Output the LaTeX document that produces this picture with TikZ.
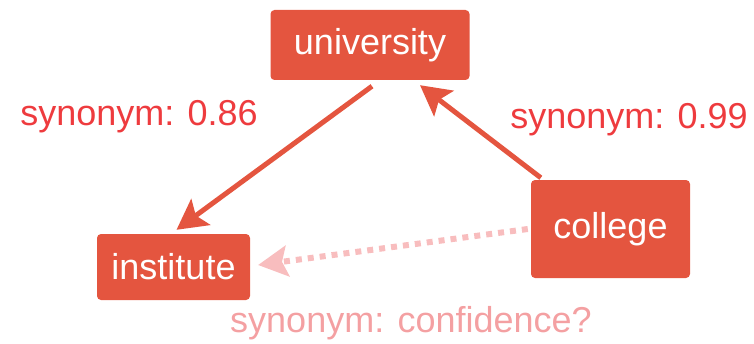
\documentclass[tikz,border=0pt]{standalone}
\usepackage{fontspec}
\setmainfont{Liberation Sans}
\usetikzlibrary{arrows.meta}
\definecolor{boxred}{HTML}{E4553F}
\definecolor{labred}{HTML}{EE3B3E}
\definecolor{labpink}{HTML}{F4A0A2}
\definecolor{dotpink}{HTML}{F8BDBE}
\begin{document}
\begin{tikzpicture}[x=1pt,y=1pt,
  wordbox/.style={fill=boxred, text=white, rounded corners=4pt, inner sep=0pt,
    font=\fontsize{36}{42}\selectfont},
  lab/.style={inner sep=0pt, font=\fontsize{36}{42}\selectfont},
  solidarrow/.style={draw=boxred, line width=5pt,
    -{Stealth[length=30pt,width=32pt,inset=6pt]}},
  dotarrow/.style={draw=dotpink, line width=6pt, dash pattern=on 6pt off 6pt,
    -{Stealth[length=30pt,width=32pt,inset=6pt,fill=dotpink,line width=0pt]}}]
\useasboundingbox (0,0) rectangle (754,343);
\node[wordbox, minimum width=199pt, minimum height=70pt] (university) at (370,298) {university};
\node[wordbox, minimum width=153pt, minimum height=66pt] (institute) at (173.5,76) {institute};
\node[wordbox, minimum width=159pt, minimum height=98pt] (college) at (610.5,114) {college};
\node[lab, text=labred] (l1) at (139,226) {synonym: 0.86};
\node[lab, text=labred] (l2) at (629,223) {synonym: 0.99};
\node[lab, text=labpink] (l3) at (411,20) {synonym: confidence?};
\draw[solidarrow] ([xshift=2pt,yshift=-6pt]university.south) -- ([xshift=3pt,yshift=4pt]institute.north);
\draw[solidarrow] ([xshift=10pt,yshift=2pt]college.north west) -- ([xshift=50pt,yshift=-5pt]university.south);
\draw[dotarrow] ([xshift=-3pt]college.west) -- ([xshift=8pt,yshift=2pt]institute.east);
\end{tikzpicture}
\end{document}
